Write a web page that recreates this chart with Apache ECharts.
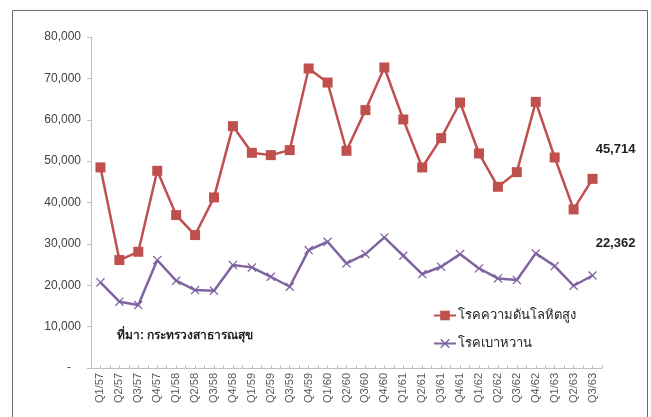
<!DOCTYPE html>
<html>
<head>
<meta charset="utf-8">
<script src="https://cdn.jsdelivr.net/npm/echarts@6/dist/echarts.min.js"></script>
<style>html,body{margin:0;padding:0;background:#fff;}#c{width:651px;height:417px;}</style>
</head>
<body>
<div id="c"></div>
<script>
const categories = ['Q1/57','Q2/57','Q3/57','Q4/57','Q1/58','Q2/58','Q3/58','Q4/58','Q1/59','Q2/59','Q3/59','Q4/59','Q1/60','Q2/60','Q3/60','Q4/60','Q1/61','Q2/61','Q3/61','Q4/61','Q1/62','Q2/62','Q3/62','Q4/62','Q1/63','Q2/63','Q3/63'];
const hypertension = [48480,26090,28090,47660,36960,32130,41230,58450,52010,51450,52660,72390,69000,52500,62320,72630,60070,48470,55560,64170,51850,43800,47340,64330,50880,38330,45714];
const diabetes = [20700,16020,15220,26090,21090,18840,18680,24880,24320,22050,19640,28500,30510,25280,27530,31570,27130,22710,24480,27530,24070,21660,21260,27700,24640,19880,22362];
const seriesNames = ['โรคความดันโลหิตสูง','โรคเบาหวาน'];
const sourceText = 'ที่มา: กระทรวงสาธารณสุข';
const yTicks = {min:0, max:80000, interval:10000};

const fmt = v => v === 0 ? '-   ' : v.toLocaleString('en-US');
const last = categories.length - 1;
const numFont = '"Liberation Sans Narrow","Liberation Sans",sans-serif';
const crossPath = 'path://M0,1L1,0L5,4L9,0L10,1L6,5L10,9L9,10L5,6L1,10L0,9L4,5Z';

const chart = echarts.init(document.getElementById('c'), null, {renderer:'canvas'});
chart.setOption({
  animation:false,
  backgroundColor:'#fff',
  grid:{left:91, right:49, top:37, bottom:49},
  graphic:[
    {type:'rect', shape:{x:12.5, y:10.5, width:635, height:420}, style:{fill:'none', stroke:'#6b6b6b', lineWidth:1}, silent:true},
    {type:'text', left:117, top:330, style:{text:sourceText, fontSize:12, fontWeight:'bold', fill:'#222', fontFamily:'sans-serif'}}
  ],
  legend:{
    orient:'vertical', left:428, top:304, itemGap:15, itemWidth:22, itemHeight:12,
    textStyle:{fontSize:13, color:'#222', fontFamily:'sans-serif', padding:[0,0,0,-3]},
    data:[seriesNames[0], seriesNames[1]]
  },
  xAxis:[{
    type:'category', data:categories, boundaryGap:true,
    axisLine:{lineStyle:{color:'#bfbfbf', width:1}},
    axisTick:{show:true, inside:true, length:3, interval:0, lineStyle:{color:'#bfbfbf'}},
    axisLabel:{rotate:90, interval:0, fontSize:11, color:'#595959', margin:5, fontFamily:numFont}
  },{
    type:'category', data:categories, position:'bottom', boundaryGap:true,
    axisLine:{show:false},
    axisTick:{show:true, inside:true, length:3, interval:0, alignWithLabel:true, lineStyle:{color:'#bfbfbf'}},
    axisLabel:{show:false}
  }],
  yAxis:{
    type:'value', min:yTicks.min, max:yTicks.max, interval:yTicks.interval,
    splitLine:{show:false},
    axisLine:{show:true, lineStyle:{color:'#bfbfbf'}},
    axisTick:{show:true, length:4, lineStyle:{color:'#bfbfbf'}},
    axisLabel:{formatter:fmt, fontSize:12, color:'#404040', margin:10, fontFamily:numFont}
  },
  series:[
    {
      name:seriesNames[0], type:'line', data:hypertension,
      symbol:'rect', symbolSize:10,
      lineStyle:{color:'#C0504D', width:2.5},
      itemStyle:{color:'#C0504D'},
      label:{show:true, position:'inside', offset:[23,-29], fontSize:13, fontWeight:'bold', color:'#222', fontFamily:numFont,
        formatter:p => p.dataIndex === last ? p.value.toLocaleString('en-US') : ''}
    },
    {
      name:seriesNames[1], type:'line', data:diabetes,
      symbol:crossPath, symbolSize:9,
      lineStyle:{color:'#8064A2', width:2.5},
      itemStyle:{color:'#8064A2'},
      label:{show:true, position:'inside', offset:[23,-32], fontSize:13, fontWeight:'bold', color:'#222', fontFamily:numFont,
        formatter:p => p.dataIndex === last ? p.value.toLocaleString('en-US') : ''}
    }
  ]
});
</script>
</body>
</html>
